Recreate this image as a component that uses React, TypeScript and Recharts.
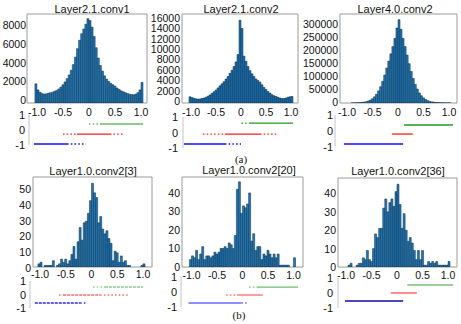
import React from 'react';
import { BarChart, Bar, XAxis, YAxis, ReferenceArea, LineChart, Line } from 'recharts';

const FONT = '"Liberation Sans", Arial, sans-serif';

// histogram bin centres (bin width 0.04)
const binCenters = [
  -1.02, -0.98, -0.94, -0.9, -0.86, -0.82, -0.78, -0.74, -0.7, -0.66, -0.62, -0.58, -0.54,
  -0.5, -0.46, -0.42, -0.38, -0.34, -0.3, -0.26, -0.22, -0.18, -0.14, -0.1, -0.06, -0.02,
  0.02, 0.06, 0.1, 0.14, 0.18, 0.22, 0.26, 0.3, 0.34, 0.38, 0.42, 0.46, 0.5, 0.54, 0.58,
  0.62, 0.66, 0.7, 0.74, 0.78, 0.82, 0.86, 0.9, 0.94, 0.98, 1.02,
];
const xTickValues = [-1, -0.5, 0, 0.5, 1];

// (a) layer-wise histograms
const conv1Counts = [
  2050, 1400, 1150, 1000, 960, 980, 1050, 1100, 1150, 1250, 1350, 1500, 1700,
  1950, 2250, 2600, 3000, 3500, 4100, 4900, 5800, 6700, 7400, 7900, 8400, 9000,
  8800, 8100, 7100, 5900, 4800, 4000, 3400, 2900, 2550, 2300, 2100, 1950, 1800,
  1600, 1450, 1300, 1200, 1100, 1020, 940, 900, 880, 950, 1100, 1400, 2200,
];
const conv2Counts = [
  1200, 1050, 900, 800, 750, 780, 850, 950, 1100, 1300, 1550, 1850, 2150,
  2500, 2900, 3300, 3700, 4100, 4600, 5100, 5700, 6300, 7000, 7900, 9300, 15900,
  14300, 9000, 8000, 7000, 6200, 5600, 5100, 4600, 4300, 4000, 3500, 3000, 2600,
  2200, 1900, 1600, 1400, 1250, 1100, 950, 850, 850, 950, 1100, 1200, 1250,
];
const layer4Counts = [
  0, 0, 0, 300, 500, 800, 1200, 1800, 2600, 3700, 5200, 8000, 11500,
  16500, 24000, 34000, 47000, 63000, 84000, 108000, 135000, 162000, 190000, 218000, 250000, 290000,
  322000, 285000, 250000, 218000, 185000, 152000, 122000, 95000, 72000, 54000, 39000, 28000, 20000,
  14000, 9500, 6500, 4500, 3200, 2300, 1600, 1100, 800, 600, 400, 300, 200,
];
// (b) channel-wise histograms
const ch3Counts = [
  2, 3, 0, 1, 1, 1, 1, 4, 0, 1, 2, 5, 3, 5, 2, 4, 8, 13, 5, 16, 25, 17, 28, 29, 34, 42,
  53, 47, 44, 28, 32, 24, 21, 23, 18, 15, 4, 10, 9, 3, 7, 3, 4, 1, 1, 0, 0, 0, 0, 0, 1, 2,
];
const ch20Counts = [
  4, 6, 5, 9, 4, 7, 11, 4, 6, 6, 5, 6, 8, 7, 8, 10, 10, 11, 10, 13, 12, 10, 17, 42, 46, 29,
  33, 32, 34, 40, 14, 18, 9, 11, 11, 4, 7, 6, 9, 7, 5, 7, 5, 7, 1, 1, 1, 1, 1, 0, 0, 5,
];
const ch36Counts = [
  0, 0, 1, 2, 0, 0, 1, 2, 2, 5, 4, 9, 4, 3, 10, 18, 16, 21, 21, 32, 37, 30, 35, 37, 33, 41,
  45, 34, 21, 29, 20, 14, 16, 13, 9, 4, 9, 4, 9, 1, 1, 3, 2, 3, 2, 3, 1, 1, 1, 1, 1, 3,
];

const conv1YTicks = [0, 2000, 4000, 6000, 8000];
const conv2YTicks = [0, 2000, 4000, 6000, 8000, 10000, 12000, 14000, 16000];
const layer4YTicks = [0, 50000, 100000, 150000, 200000, 250000, 300000];
const ch3YTicks = [0, 10, 20, 30, 40, 50];
const chYTicks = [0, 10, 20, 30, 40];
const stripYTicks = [1, 0, -1];

// strip plots: rows = [positive, zero, negative]; segments [from, to] along the weight axis
const s1Levels = [0.4, -0.27, -0.93];
const s1Dense = [[[0.21, 1.04]], [[-0.23, 0.4]], [[-1.06, -0.42]]];
const s1Sparse = [[[0.0, 0.21]], [[-0.5, -0.23], [0.4, 0.67]], [[-0.42, -0.06]]];

const s2Levels = [0.61, -0.1, -0.74];
const s2Dense = [[[0.18, 1.04]], [[-0.32, 0.38]], [[-1.14, -0.32]]];
const s2Sparse = [[[0.01, 0.18]], [[-0.76, -0.32], [0.38, 0.72]], [[-0.32, 0.0]]];

const s3Levels = [0.375, -0.19, -0.81];
const s3Dense = [[[0.12, 1.08]], [[-0.12, 0.29]], [[-1.06, 0.1]]];
const s3Sparse = [[], [], []];

const s4Levels = [0.56, -0.04, -0.63];
const s4Dense = [[[0.26, 1.0]], [[-0.55, 0.17]], [[-1.1, -0.22]]];
const s4Sparse = [[[0.03, 0.26]], [[-0.63, -0.55], [0.17, 0.71]], [[-0.22, -0.11]]];

const s5Levels = [0.33, -0.2, -0.73];
const s5Dense = [[[0.28, 1.09]], [[-0.11, 0.4]], [[-1.06, -0.02]]];
const s5Sparse = [[[0.13, 0.28]], [[-0.32, -0.11]], [[-0.02, 0.11]]];

const s6Levels = [0.53, 0, -0.53];
const s6Dense = [[[0.2, 1.1]], [[-0.12, 0.39]], [[-1.02, 0.12]]];
const s6Sparse = [[], [], []];

const fmtX = (v: number) => (v === 0 ? '0' : v.toFixed(1));
const fmtInt = (v: number) => String(v);

function makeTick(anchor: string, shift: number, size: number, fmt: (v: number) => string) {
  return (p: any) => (
    <text
      x={p.x}
      y={p.y + shift}
      textAnchor={anchor}
      dominantBaseline="central"
      fontSize={size}
      fontFamily={FONT}
      fill="#111"
    >
      {fmt(p.payload.value)}
    </text>
  );
}

type Box = { l: number; t: number; r: number; b: number };

function Hist(props: {
  box: Box;
  chartLeft: number;
  xDomain: [number, number];
  yMax: number;
  yTicks: number[];
  counts: number[];
  yShift: number;
  yMargin: number;
  xOff: number;
}) {
  const { box, chartLeft, xDomain, yMax, yTicks, counts, yShift, yMargin, xOff } = props;
  const mt = 2;
  const mr = 2;
  const xh = 20;
  const yw = box.l - chartLeft;
  const width = box.r - chartLeft + mr;
  const height = box.b - box.t + mt + xh;
  const data = binCenters.map((c, i) => ({ c, n: counts[i] }));
  return (
    <div style={{ position: 'absolute', left: chartLeft, top: box.t - mt }}>
      <BarChart
        width={width}
        height={height}
        data={data}
        margin={{ top: mt, right: mr, bottom: 0, left: 0 }}
        barCategoryGap={0}
        barGap={0}
      >
        <XAxis
          type="number"
          dataKey="c"
          domain={xDomain}
          allowDataOverflow
          ticks={xTickValues}
          interval={0}
          height={xh}
          axisLine={false}
          tickLine={false}
          tickSize={0}
          tickMargin={xOff}
          tick={makeTick('middle', 0, 10.5, fmtX)}
        />
        <YAxis
          type="number"
          domain={[0, yMax]}
          allowDataOverflow
          ticks={yTicks}
          interval={0}
          width={yw}
          axisLine={false}
          tickLine={false}
          tickSize={0}
          tickMargin={yMargin}
          tick={makeTick('end', yShift, 10.5, fmtInt)}
        />
        <Bar dataKey="n" fill="#1f77b4" stroke="#0c2a45" strokeWidth={0.5} isAnimationActive={false} />
        <ReferenceArea
          x1={xDomain[0]}
          x2={xDomain[1]}
          y1={0}
          y2={yMax}
          fill="none"
          fillOpacity={0}
          stroke="#9a9a9a"
          strokeWidth={1}
          ifOverflow="visible"
        />
      </BarChart>
    </div>
  );
}

function Strip(props: {
  spineX: number;
  chartLeft: number;
  t: number;
  b: number;
  r: number;
  xDomain: [number, number];
  levels: number[];
  dense: number[][][];
  sparse: number[][][];
  colors: string[];
  widths: number[];
  denseDash?: string;
  labelMargin: number;
}) {
  const { spineX, chartLeft, t, b, r, xDomain, levels, dense, sparse, colors, widths, denseDash, labelMargin } = props;
  const mt = 6;
  const mb = 6;
  const mr = 2;
  const yw = spineX - chartLeft;
  const width = r - chartLeft + mr;
  const height = b - t + mt + mb;
  const lines: React.ReactNode[] = [];
  levels.forEach((lvl, k) => {
    dense[k].forEach((seg, j) => {
      lines.push(
        <Line
          key={`d${k}-${j}`}
          data={[{ x: seg[0], y: lvl }, { x: seg[1], y: lvl }]}
          dataKey="y"
          stroke={colors[k]}
          strokeWidth={widths[k]}
          strokeDasharray={denseDash}
          dot={false}
          isAnimationActive={false}
        />
      );
    });
    sparse[k].forEach((seg, j) => {
      lines.push(
        <Line
          key={`s${k}-${j}`}
          data={[{ x: seg[0], y: lvl }, { x: seg[1], y: lvl }]}
          dataKey="y"
          stroke={colors[k]}
          strokeWidth={widths[k]}
          strokeDasharray="1.5 2.2"
          dot={false}
          isAnimationActive={false}
        />
      );
    });
  });
  return (
    <div style={{ position: 'absolute', left: chartLeft, top: t - mt }}>
      <LineChart width={width} height={height} margin={{ top: mt, right: mr, bottom: mb, left: 0 }}>
        <XAxis type="number" dataKey="x" domain={xDomain} allowDataOverflow hide />
        <YAxis
          type="number"
          domain={[-1, 1]}
          ticks={stripYTicks}
          interval={0}
          width={yw}
          axisLine={{ stroke: '#c4c4c4' }}
          tickLine={false}
          tickSize={0}
          tickMargin={labelMargin}
          tick={makeTick('end', 0, 11, fmtInt)}
        />
        {lines}
      </LineChart>
    </div>
  );
}

function Title({ text, cx, cy }: { text: string; cx: number; cy: number }) {
  return (
    <div
      style={{
        position: 'absolute',
        left: cx - 70,
        top: cy - 7,
        width: 140,
        textAlign: 'center',
        fontFamily: FONT,
        fontSize: 11,
        lineHeight: '14px',
        color: '#111',
        whiteSpace: 'nowrap',
      }}
    >
      {text}
    </div>
  );
}

function Caption({ text, cx, cy }: { text: string; cx: number; cy: number }) {
  return (
    <div
      style={{
        position: 'absolute',
        left: cx - 20,
        top: cy - 7,
        width: 40,
        textAlign: 'center',
        fontFamily: '"Liberation Serif", "Times New Roman", serif',
        fontSize: 11,
        lineHeight: '14px',
        color: '#111',
      }}
    >
      {text}
    </div>
  );
}

const colA = ['#1e9a1e', '#ff1a1a', '#1010ff'];
const colB4 = ['#4fae4f', '#e82626', '#2a2aff'];
const colB5 = ['#6cbd6c', '#ff6a6a', '#6a6aff'];
const colB6 = ['#34a034', '#ff3030', '#0c0cb0'];

export default function App() {
  return (
    <div
      style={{
        position: 'absolute',
        left: 0,
        top: 0,
        width: 461,
        height: 324,
        background: '#fff',
        overflow: 'hidden',
      }}
    >
      <Title text="Layer2.1.conv1" cx={92} cy={8.5} />
      <Title text="Layer2.1.conv2" cx={241} cy={9} />
      <Title text="Layer4.0.conv2" cx={395} cy={8.5} />

      <Hist box={{ l: 27, t: 14, r: 147, b: 103 }} chartLeft={0} xDomain={[-1.192, 1.115]} yMax={9500}
        yTicks={conv1YTicks} counts={conv1Counts} yShift={-3} yMargin={1} xOff={9} />
      <Hist box={{ l: 182, t: 14, r: 298, b: 103 }} chartLeft={148} xDomain={[-1.18, 1.14]} yMax={17100}
        yTicks={conv2YTicks} counts={conv2Counts} yShift={-2} yMargin={2} xOff={9} />
      <Hist box={{ l: 340, t: 14, r: 457, b: 103 }} chartLeft={298} xDomain={[-1.137, 1.157]} yMax={344000}
        yTicks={layer4YTicks} counts={layer4Counts} yShift={-1.5} yMargin={2} xOff={9} />

      <Strip spineX={29} chartLeft={0} t={115} b={145} r={147} xDomain={[-1.154, 1.115]}
        levels={s1Levels} dense={s1Dense} sparse={s1Sparse} colors={colA} widths={[1.2, 1.2, 1.5]} labelMargin={4} />
      <Strip spineX={183} chartLeft={148} t={117} b={148} r={298} xDomain={[-1.16, 1.14]}
        levels={s2Levels} dense={s2Dense} sparse={s2Sparse} colors={colA} widths={[1.2, 1.2, 1.5]} labelMargin={5} />
      <Strip spineX={335} chartLeft={298} t={115} b={147} r={457} xDomain={[-1.235, 1.157]}
        levels={s3Levels} dense={s3Dense} sparse={s3Sparse} colors={colA} widths={[1.3, 1.3, 1.6]} labelMargin={2} />

      <Caption text="(a)" cx={241} cy={159} />

      <Title text="Layer1.0.conv2[3]" cx={93} cy={171} />
      <Title text="Layer1.0.conv2[20]" cx={249} cy={170} />
      <Title text="Layer1.0.conv2[36]" cx={398} cy={171} />

      <Hist box={{ l: 33, t: 177, r: 152, b: 267 }} chartLeft={0} xDomain={[-1.136, 1.175]} yMax={57}
        yTicks={ch3YTicks} counts={ch3Counts} yShift={1} yMargin={2} xOff={6.5} />
      <Hist box={{ l: 182, t: 177, r: 303, b: 267 }} chartLeft={148} xDomain={[-1.186, 1.186]} yMax={48.6}
        yTicks={chYTicks} counts={ch20Counts} yShift={0} yMargin={2} xOff={8} />
      <Hist box={{ l: 338, t: 178, r: 457, b: 267 }} chartLeft={300} xDomain={[-1.157, 1.176]} yMax={48.4}
        yTicks={chYTicks} counts={ch36Counts} yShift={0} yMargin={2} xOff={8} />

      <Strip spineX={30} chartLeft={0} t={281} b={308} r={152} xDomain={[-1.194, 1.175]}
        levels={s4Levels} dense={s4Dense} sparse={s4Sparse} colors={colB4} widths={[1.1, 1.1, 1.4]}
        denseDash="3 1" labelMargin={4} />
      <Strip spineX={181} chartLeft={148} t={277} b={307} r={303} xDomain={[-1.206, 1.186]}
        levels={s5Levels} dense={s5Dense} sparse={s5Sparse} colors={colB5} widths={[1.3, 1.3, 1.4]} labelMargin={4} />
      <Strip spineX={338} chartLeft={300} t={278} b={308} r={457} xDomain={[-1.157, 1.176]}
        levels={s6Levels} dense={s6Dense} sparse={s6Sparse} colors={colB6} widths={[1.1, 1.1, 1.4]} labelMargin={5} />

      <Caption text="(b)" cx={239} cy={315} />
    </div>
  );
}
